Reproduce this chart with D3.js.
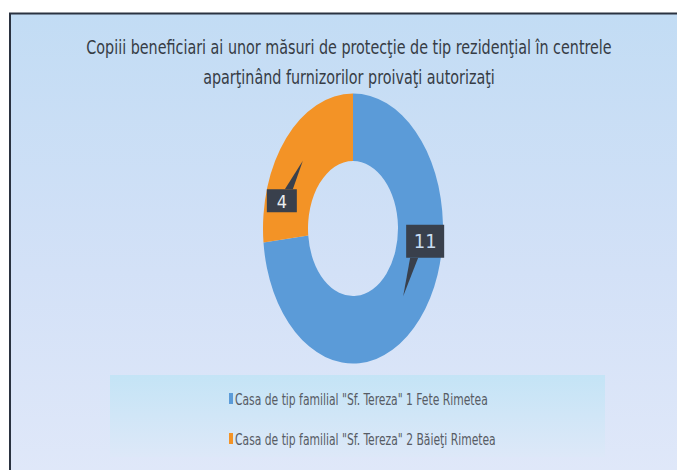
<!DOCTYPE html>
<html>
<head>
<meta charset="utf-8">
<script src="https://cdn.jsdelivr.net/npm/d3@7"></script>
<style>
  html, body { margin: 0; padding: 0; background: #ffffff; }
  #chart { width: 677px; height: 470px; }
  text { font-family: "DejaVu Sans Condensed", "Liberation Sans Narrow", sans-serif; }
</style>
</head>
<body>
<div id="chart"></div>
<script>
// chart data
const titleLines = [
  "Copiii beneficiari ai unor măsuri de protecţie de tip rezidenţial în centrele",
  "aparţinând furnizorilor proivaţi autorizaţi"
];
const categories = [
  "Casa de tip familial \"Sf. Tereza\" 1 Fete Rimetea",
  "Casa de tip familial \"Sf. Tereza\" 2 Băieţi Rimetea"
];
const values = [11, 4];
const sliceColors = ["#5b9bd8", "#f39326"];

const width = 677, height = 470;

const svg = d3.select("#chart")
  .append("svg")
  .attr("width", width)
  .attr("height", height);

const defs = svg.append("defs");

// background gradient of the chart area
const bg = defs.append("linearGradient")
  .attr("id", "bg-grad")
  .attr("x1", 0).attr("y1", 0).attr("x2", 0).attr("y2", 1);
bg.append("stop").attr("offset", "0%").attr("stop-color", "#c2dcf4");
bg.append("stop").attr("offset", "55%").attr("stop-color", "#d3e1f7");
bg.append("stop").attr("offset", "100%").attr("stop-color", "#e0e8f9");

const legGrad = defs.append("linearGradient")
  .attr("id", "leg-grad")
  .attr("x1", 0).attr("y1", 0).attr("x2", 0).attr("y2", 1);
legGrad.append("stop").attr("offset", "0%").attr("stop-color", "#c4e4f6");
legGrad.append("stop").attr("offset", "100%").attr("stop-color", "#dde8f8");

// frame
svg.append("rect")
  .attr("x", 10)
  .attr("y", 13.5)
  .attr("width", width)
  .attr("height", height)
  .attr("fill", "url(#bg-grad)")
  .attr("stroke", "#2a3240")
  .attr("stroke-width", 2);

// squeeze a group of text lines horizontally so the first one fits targetWidth
function squeeze(group, anchorX, targetWidth) {
  const w = group.select("text").node().getComputedTextLength();
  const k = targetWidth / w;
  group.attr("transform", `translate(${anchorX},0) scale(${k},1)`);
}

// title
const titleG = svg.append("g");
titleG.selectAll("text")
  .data(titleLines)
  .enter()
  .append("text")
  .attr("x", 0)
  .attr("y", (d, i) => 54 + i * 30)
  .attr("text-anchor", "middle")
  .attr("font-size", "19px")
  .attr("fill", "#363c45")
  .text(d => d);
squeeze(titleG, 349, 526);

// donut (drawn as a vertically stretched circle)
const cx = 353, cy = 228.5, r = 90, stretch = 1.5;

const pie = d3.pie().sort(null).value(d => d)(values);
const arc = d3.arc().innerRadius(r * 0.5).outerRadius(r);
const midArc = d3.arc().innerRadius(r * 0.75).outerRadius(r * 0.75);

const donut = svg.append("g")
  .attr("transform", `translate(${cx},${cy}) scale(1,${stretch})`);

donut.selectAll("path")
  .data(pie)
  .enter()
  .append("path")
  .attr("d", arc)
  .attr("fill", (d, i) => sliceColors[i]);

// data label callouts
const boxOffsets = [[22, -55], [-21, 40]];
const boxSizes = [[38, 33], [30, 23]];

const labels = svg.append("g");
pie.forEach((d, i) => {
  const c = midArc.centroid(d);
  const tipX = cx + c[0], tipY = cy + c[1] * stretch;
  const bx = tipX + boxOffsets[i][0], by = tipY + boxOffsets[i][1];
  const w = boxSizes[i][0], h = boxSizes[i][1];
  const g = labels.append("g");
  // tail
  const dir = by < tipY ? 1 : -1;
  const edgeY = by + dir * h / 2;
  const baseX = bx - w / 2 + (dir > 0 ? 4 : w - 12);
  g.append("path")
    .attr("d", `M${baseX},${edgeY} L${baseX + 8},${edgeY} L${tipX},${tipY} Z`)
    .attr("fill", "#39404c");
  g.append("rect")
    .attr("x", bx - w / 2)
    .attr("y", by - h / 2)
    .attr("width", w)
    .attr("height", h)
    .attr("fill", "#39404c");
  g.append("text")
    .attr("x", bx)
    .attr("y", by + 7)
    .attr("text-anchor", "middle")
    .attr("font-size", i === 0 ? "20px" : "18px")
    .attr("fill", i === 0 ? "#c9ddf2" : "#e9ecef")
    .text(values[i]);
});

// legend
svg.append("rect")
  .attr("x", 110)
  .attr("y", 375)
  .attr("width", 495)
  .attr("height", 82)
  .attr("fill", "url(#leg-grad)");

const legend = svg.append("g")
  .selectAll("g")
  .data(categories)
  .enter()
  .append("g")
  .attr("transform", (d, i) => `translate(229,${405 + i * 40})`);

legend.append("rect")
  .attr("x", 0)
  .attr("y", -12)
  .attr("width", 4)
  .attr("height", 11)
  .attr("fill", (d, i) => sliceColors[i]);

const legText = legend.append("g");
legText.append("text")
  .attr("x", 0)
  .attr("y", 0)
  .attr("font-size", "15px")
  .attr("fill", "#575c64")
  .text(d => d);
legText.each(function () {
  const t = d3.select(this);
  const k = 253 / d3.select(legText.node()).select("text").node().getComputedTextLength();
  t.attr("transform", `translate(6,0) scale(${k},1)`);
});
</script>
</body>
</html>
